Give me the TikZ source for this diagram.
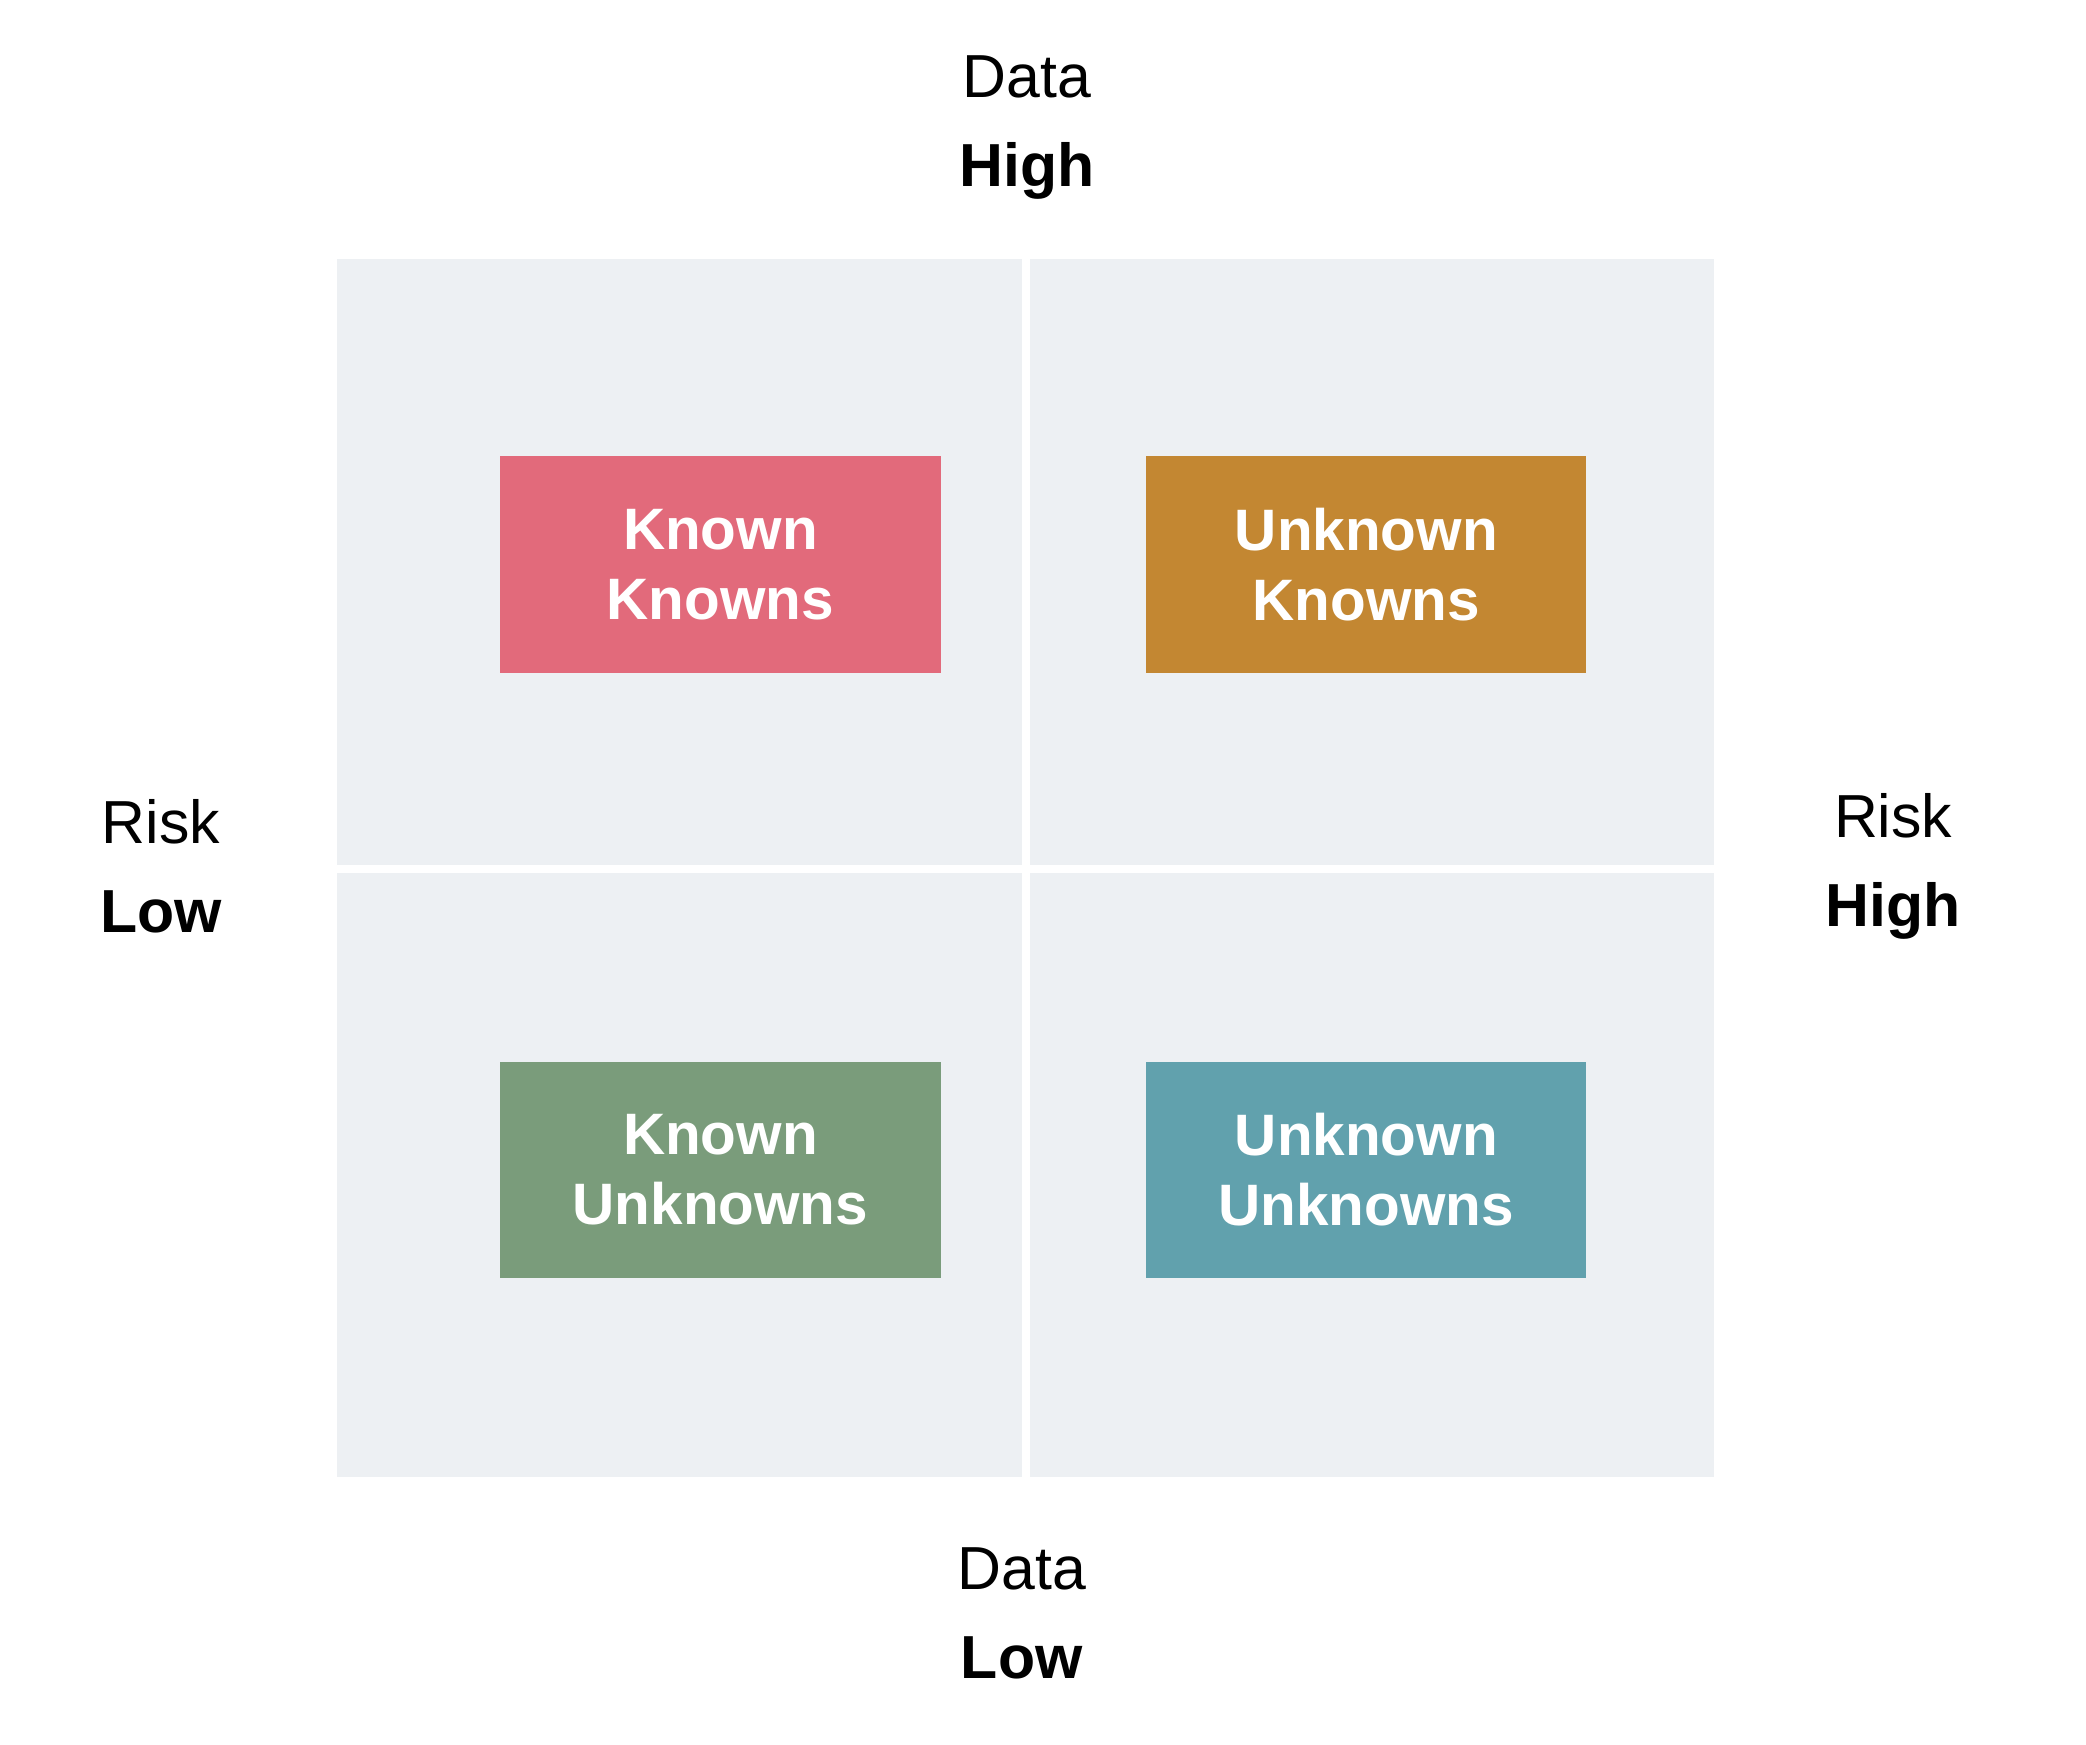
\documentclass[tikz,border=0pt]{standalone}
\usepackage{fontspec}
\setmainfont{Liberation Sans}
\usetikzlibrary{positioning}
\definecolor{quadgray}{HTML}{EDF0F3}
\definecolor{kkpink}{HTML}{E26A7B}
\definecolor{ukochre}{HTML}{C38732}
\definecolor{kugreen}{HTML}{7A9C7B}
\definecolor{uuteal}{HTML}{61A1AD}
\tikzset{
  quad/.style={fill=quadgray, draw=none},
  cell/.style={minimum width=3.31cm, minimum height=1.63cm, text=white,
    font=\fontsize{12.5}{15}\selectfont\bfseries, align=center, inner sep=0pt},
  axis/.style={align=center, font=\fontsize{13}{19}\selectfont}
}
\begin{document}
\begin{tikzpicture}
  \useasboundingbox (0,0) rectangle (15.68,13.11);

  % quadrants
  \fill[quad] (2.53,6.61) rectangle (7.68,11.16);
  \fill[quad] (7.74,6.61) rectangle (12.88,11.16);
  \fill[quad] (2.53,2.01) rectangle (7.68,6.55);
  \fill[quad] (7.74,2.01) rectangle (12.88,6.55);

  % boxes
  \node[cell, fill=kkpink]  (kk) at (5.415,8.865) {Known\\Knowns};
  \node[cell, fill=ukochre] (uk) at (10.27,8.865) {Unknown\\Knowns};
  \node[cell, fill=kugreen] (ku) at (5.415,4.315) {Known\\Unknowns};
  \node[cell, fill=uuteal]  (uu) at (10.27,4.315) {Unknown\\Unknowns};

  % axis labels
  \node[axis] (dhigh) at (7.72,12.15) {Data\\\textbf{High}};
  \node[axis] (dlow)  at (7.68,0.98) {Data\\\textbf{Low}};
  \node[axis] (rlow)  at (1.21,6.6) {Risk\\\textbf{Low}};
  \node[axis] (rhigh) at (14.23,6.6) {Risk\\\textbf{High}};
\end{tikzpicture}
\end{document}
